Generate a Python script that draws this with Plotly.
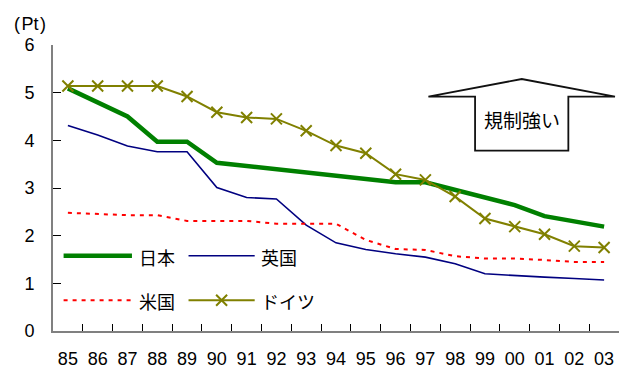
import plotly.graph_objects as go

# Fiscal years (two-digit labels) and regulation index values (Pt)
years = ["85", "86", "87", "88", "89", "90", "91", "92", "93", "94",
         "95", "96", "97", "98", "99", "00", "01", "02", "03"]
japan = [5.09, 4.79, 4.50, 3.97, 3.97, 3.53, 3.46, 3.40, 3.33, 3.26,
         3.19, 3.12, 3.12, 2.96, 2.82, 2.64, 2.41, 2.29, 2.19]
uk = [4.31, 4.11, 3.88, 3.76, 3.76, 3.01, 2.80, 2.77, 2.22, 1.85,
      1.71, 1.62, 1.55, 1.41, 1.20, 1.16, 1.13, 1.10, 1.07]
us = [2.48, 2.46, 2.43, 2.43, 2.31, 2.31, 2.31, 2.25, 2.25, 2.25,
      1.91, 1.72, 1.70, 1.57, 1.52, 1.52, 1.49, 1.45, 1.45]
germany = [5.14, 5.14, 5.14, 5.14, 4.92, 4.59, 4.48, 4.45, 4.20, 3.89,
           3.73, 3.29, 3.17, 2.82, 2.36, 2.19, 2.03, 1.78, 1.75]

names = ["日本", "英国", "米国", "ドイツ"]
colors = ["#008000", "#000080", "#FF0000", "#808000"]

W, H = 621, 369
L, R, T, B = 52.7, 2, 45, 38
PW, PH = W - L - R, H - T - B

FONT = "Liberation Sans, Noto Sans CJK JP, sans-serif"
JFONT = "Noto Sans CJK JP, sans-serif"


def px(x, y):
    """Convert page pixel position to paper coordinates."""
    return (x - L) / PW, (H - B - y) / PH


fig = go.Figure()

fig.add_trace(go.Scatter(x=years, y=japan, mode="lines", name=names[0],
                         line=dict(color=colors[0], width=4.5)))
fig.add_trace(go.Scatter(x=years, y=uk, mode="lines", name=names[1],
                         line=dict(color=colors[1], width=1.6)))
fig.add_trace(go.Scatter(x=years, y=us, mode="lines", name=names[2],
                         line=dict(color=colors[2], width=2, dash="4px,5px")))
fig.add_trace(go.Scatter(x=years, y=germany, mode="lines+markers", name=names[3],
                         line=dict(color=colors[3], width=2),
                         marker=dict(symbol="x-thin", size=11,
                                     line=dict(color=colors[3], width=2))))

# Hand-drawn legend: two rows by two columns inside the plot area
shapes = []
annotations = []
rows = [255.7, 300.3]
cols = [(63.3, 131.7, 137), (188.3, 254.5, 258.5)]
styles = [
    dict(color=colors[0], width=4.5),
    dict(color=colors[1], width=1.6),
    dict(color=colors[2], width=2, dash="4px,5px"),
    dict(color=colors[3], width=2),
]
for i, name in enumerate(names):
    ry = rows[i // 2]
    x0, x1, tx = cols[i % 2]
    (a, b) = px(x0, ry)
    (c, _) = px(x1, ry)
    shapes.append(dict(type="line", xref="paper", yref="paper",
                       x0=a, x1=c, y0=b, y1=b, line=styles[i]))
    t, ty = px(tx, ry + 1)
    annotations.append(dict(x=t, y=ty, xref="paper", yref="paper",
                            text=name, showarrow=False, xanchor="left",
                            yanchor="middle",
                            font=dict(family=JFONT, size=18, color="black")))

# Marker sample for the ドイツ legend key, on an overlay axis in paper units
mx, my = px((188.3 + 254.5) / 2, rows[1])
fig.add_trace(go.Scatter(x=[mx], y=[my], mode="markers", xaxis="x2", yaxis="y2",
                         showlegend=False, hoverinfo="skip",
                         marker=dict(symbol="x-thin", size=11,
                                     line=dict(color=colors[3], width=2))))

# Upward block arrow labelled 規制強い
pts = [(428.3, 96.7), (521.7, 79.0), (615.0, 96.7), (568.3, 96.7),
       (568.3, 150.7), (475.0, 150.7), (475.0, 96.7)]
ppts = [px(x, y) for x, y in pts]
path = "M " + " L ".join(f"{x:.4f},{y:.4f}" for x, y in ppts) + " Z"
shapes.append(dict(type="path", xref="paper", yref="paper", path=path,
                   fillcolor="white", line=dict(color="#111111", width=1.8)))
ax, ay = px(521.7, 119)
annotations.append(dict(x=ax, y=ay, xref="paper", yref="paper", text="規制強い",
                        showarrow=False, xanchor="center", yanchor="middle",
                        font=dict(family=JFONT, size=19, color="black")))

# Unit label
ux, uy = px(12, 24)
annotations.append(dict(x=ux, y=uy, xref="paper", yref="paper",
                        text="(&#8202;Pt&#8202;)",
                        showarrow=False, xanchor="left", yanchor="middle",
                        font=dict(family=FONT, size=18, color="black")))

fig.update_layout(
    width=W, height=H,
    margin=dict(l=L, r=R, t=T, b=B, pad=0),
    paper_bgcolor="white", plot_bgcolor="white",
    showlegend=False,
    shapes=shapes,
    annotations=annotations,
    xaxis=dict(type="category", categoryorder="array", categoryarray=years,
               range=[-0.5, 18.5], showgrid=False, zeroline=False,
               automargin=False,
               showline=True, linecolor="#808080", linewidth=2,
               ticks="inside", ticklen=7, tickwidth=1, tickcolor="#000000",
               tickson="boundaries", ticklabelstandoff=10,
               tickfont=dict(family=FONT, size=18, color="black")),
    yaxis=dict(range=[0, 6], dtick=1, tick0=0, showgrid=False, zeroline=False,
               automargin=False,
               showline=True, linecolor="#808080", linewidth=2,
               ticks="inside", ticklen=8, tickwidth=1, tickcolor="#000000",
               ticklabelstandoff=13,
               tickfont=dict(family=FONT, size=18, color="black")),
    xaxis2=dict(overlaying="x", range=[0, 1], visible=False, domain=[0, 1]),
    yaxis2=dict(overlaying="y", range=[0, 1], visible=False),
)

fig.write_html("out.html")
